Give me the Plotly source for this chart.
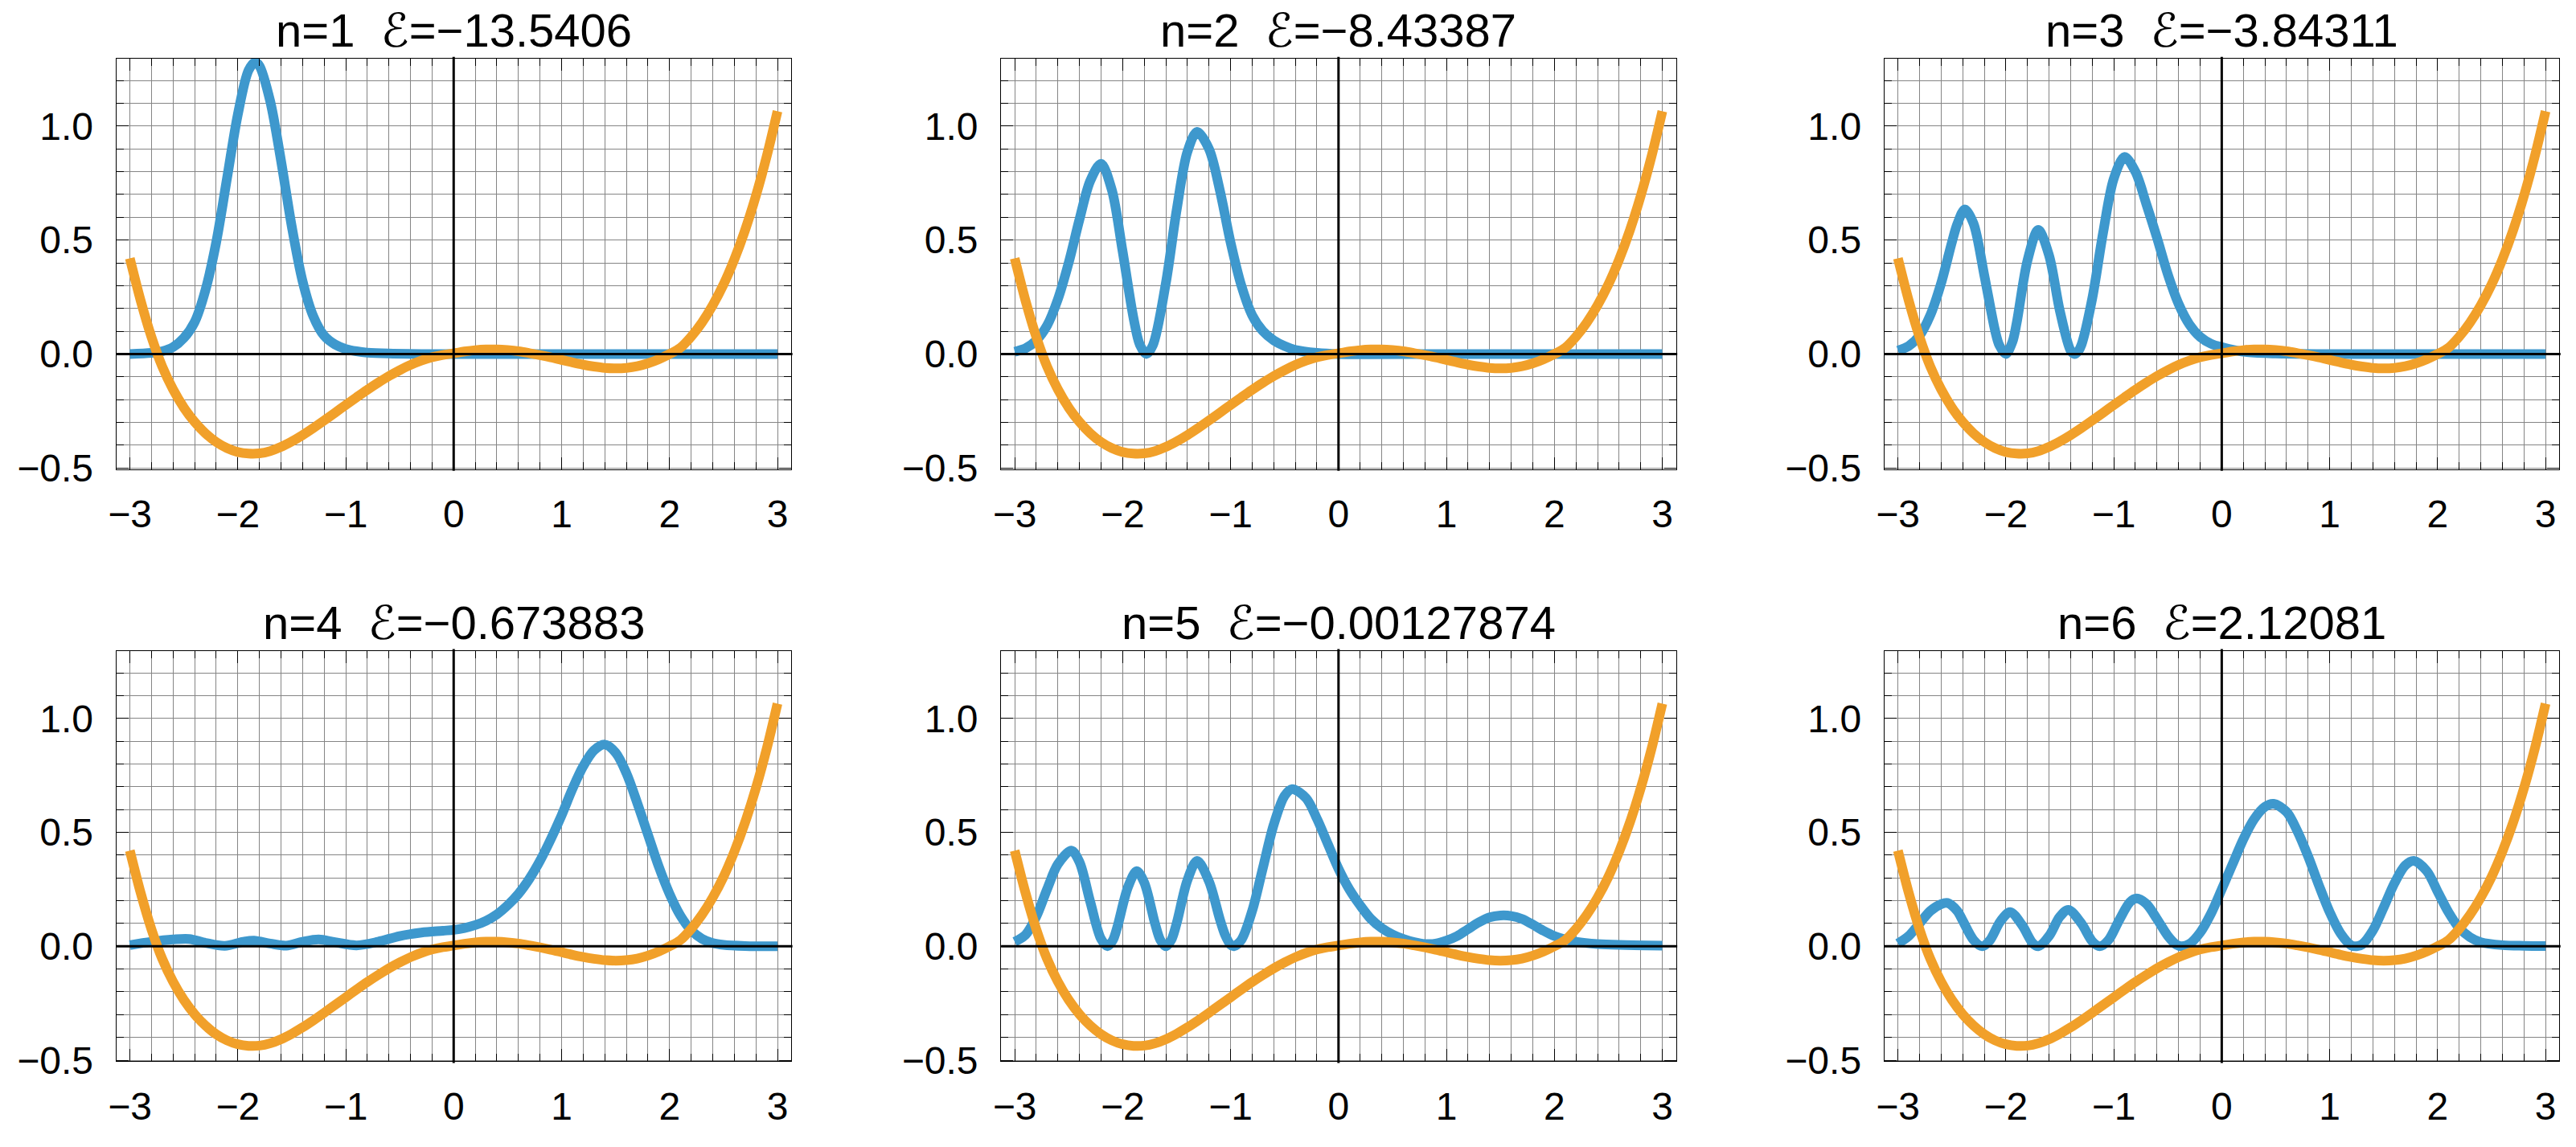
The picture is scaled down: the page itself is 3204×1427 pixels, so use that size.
import plotly.graph_objects as go

W, H = 3204, 1427

# ---------------- data ----------------
state_labels = ["n=1", "n=2", "n=3", "n=4", "n=5", "n=6"]
energy_labels = ["\u221213.5406", "\u22128.43387", "\u22123.84311",
                 "\u22120.673883", "\u22120.00127874", "2.12081"]

# scaled potential (orange), same in every panel
pot_x = [-3.0, -2.9, -2.8, -2.7, -2.6, -2.5, -2.4, -2.3, -2.2, -2.1, -2.0,
         -1.9, -1.8, -1.7, -1.6, -1.5, -1.4, -1.3, -1.2, -1.1, -1.0,
         -0.9, -0.8, -0.7, -0.6, -0.5, -0.4, -0.3, -0.2, -0.1, 0.0,
         0.1, 0.2, 0.3, 0.4, 0.5, 0.6, 0.7, 0.8, 0.9, 1.0,
         1.1, 1.2, 1.3, 1.4, 1.5, 1.6, 1.7, 1.8, 1.9, 2.0,
         2.1, 2.2, 2.3, 2.4, 2.5, 2.6, 2.7, 2.8, 2.9, 3.0]
pot_y = [0.42, 0.235, 0.075, -0.055, -0.155, -0.235, -0.298, -0.348, -0.386, -0.413, -0.43,
         -0.437, -0.436, -0.426, -0.408, -0.384, -0.356, -0.325, -0.292, -0.258, -0.224,
         -0.19, -0.157, -0.126, -0.097, -0.071, -0.048, -0.029, -0.014, -0.004, 0.003,
         0.011, 0.017, 0.02, 0.02, 0.017, 0.012, 0.004, -0.005, -0.015, -0.026,
         -0.037, -0.047, -0.055, -0.061, -0.063, -0.061, -0.054, -0.041, -0.023, 0.0,
         0.027, 0.076, 0.138, 0.214, 0.305, 0.415, 0.544, 0.694, 0.867, 1.065]

# probability densities (blue)
n1_x = [-3.0, -2.8, -2.7, -2.6, -2.5, -2.4, -2.3, -2.2, -2.1, -2.0, -1.9, -1.84, -1.8,
        -1.7, -1.6, -1.5, -1.4, -1.3, -1.2, -1.1, -1.0, -0.9, -0.8, -0.6, -0.3, 0.0,
        1.0, 2.0, 3.0]
n1_y = [0.0, 0.005, 0.012, 0.03, 0.07, 0.14, 0.28, 0.49, 0.77, 1.05, 1.245, 1.28, 1.265,
        1.11, 0.85, 0.56, 0.32, 0.165, 0.08, 0.042, 0.022, 0.012, 0.006, 0.002, 0.0, 0.0,
        0.0, 0.0, 0.0]

n2_x = [-3.0, -2.9, -2.8, -2.7, -2.6, -2.5, -2.4, -2.3, -2.2, -2.1, -2.0, -1.9, -1.84,
        -1.78, -1.72, -1.6, -1.5, -1.4, -1.31, -1.2, -1.1, -1.0, -0.9, -0.8, -0.7,
        -0.6, -0.5, -0.4, -0.2, 0.0, 1.0, 2.0, 3.0]
n2_y = [0.01, 0.025, 0.06, 0.125, 0.24, 0.40, 0.59, 0.76, 0.835, 0.72, 0.45, 0.16, 0.04,
        0.0, 0.038, 0.31, 0.63, 0.887, 0.975, 0.90, 0.72, 0.49, 0.30, 0.17, 0.10,
        0.06, 0.035, 0.018, 0.005, 0.0, 0.0, 0.0, 0.0]

n3_x = [-3.0, -2.9, -2.8, -2.7, -2.6, -2.5, -2.45, -2.38, -2.3, -2.2, -2.1, -2.06, -2.0,
        -1.94, -1.9, -1.8, -1.7, -1.6, -1.5, -1.4, -1.365, -1.33, -1.3, -1.2, -1.1,
        -1.0, -0.9, -0.8, -0.7, -0.6, -0.5, -0.4, -0.3, -0.2, -0.1, 0.0, 0.2, 0.5,
        1.0, 2.0, 3.0]
n3_y = [0.015, 0.035, 0.08, 0.17, 0.31, 0.49, 0.57, 0.635, 0.573, 0.346, 0.103, 0.038, 0.0,
        0.052, 0.136, 0.41, 0.545, 0.433, 0.19, 0.015, 0.0, 0.012, 0.04, 0.243, 0.53,
        0.77, 0.865, 0.80, 0.66, 0.51, 0.35, 0.22, 0.13, 0.075, 0.045, 0.03, 0.01, 0.002,
        0.0, 0.0, 0.0]

n4_x = [-3.0, -2.8, -2.6, -2.45, -2.3, -2.12, -1.95, -1.85, -1.7, -1.55, -1.4, -1.25,
        -1.1, -0.9, -0.7, -0.5, -0.3, -0.1, 0.0, 0.1, 0.2, 0.3, 0.4, 0.5, 0.6, 0.7,
        0.8, 0.9, 1.0, 1.1, 1.2, 1.3, 1.4, 1.5, 1.6, 1.7, 1.8, 1.9, 2.0, 2.1, 2.2,
        2.3, 2.4, 2.5, 2.7, 3.0]
n4_y = [0.005, 0.02, 0.03, 0.032, 0.015, 0.002, 0.02, 0.025, 0.012, 0.003, 0.02, 0.03,
        0.018, 0.004, 0.02, 0.045, 0.06, 0.068, 0.072, 0.08, 0.093, 0.112, 0.14, 0.18,
        0.23, 0.295, 0.375, 0.47, 0.575, 0.69, 0.79, 0.86, 0.885, 0.85, 0.76, 0.63, 0.49,
        0.35, 0.23, 0.135, 0.07, 0.033, 0.014, 0.006, 0.001, 0.0]

n5_x = [-3.0, -2.9, -2.8, -2.7, -2.6, -2.475, -2.4, -2.3, -2.2, -2.14, -2.09, -2.05,
        -1.95, -1.87, -1.8, -1.7, -1.65, -1.6, -1.55, -1.5, -1.4, -1.31, -1.2, -1.1,
        -1.05, -1.0, -0.97, -0.9, -0.8, -0.7, -0.6, -0.5, -0.43, -0.3, -0.2, -0.1, 0.0,
        0.1, 0.2, 0.3, 0.4, 0.5, 0.6, 0.7, 0.8, 0.9, 1.0, 1.1, 1.2, 1.3, 1.4, 1.5, 1.6,
        1.7, 1.8, 1.9, 2.0, 2.1, 2.2, 2.4, 2.6, 3.0]
n5_y = [0.02, 0.05, 0.13, 0.25, 0.36, 0.42, 0.37, 0.195, 0.032, 0.0, 0.027, 0.083,
        0.26, 0.33, 0.28, 0.10, 0.027, 0.0, 0.027, 0.10, 0.29, 0.375, 0.285, 0.12,
        0.049, 0.007, 0.0, 0.028, 0.155, 0.345, 0.534, 0.66, 0.69, 0.65, 0.56, 0.45, 0.34,
        0.25, 0.18, 0.12, 0.08, 0.052, 0.032, 0.018, 0.01, 0.012, 0.025, 0.045, 0.075,
        0.105, 0.127, 0.135, 0.133, 0.12, 0.095, 0.068, 0.045, 0.03, 0.02, 0.01, 0.006,
        0.003]

n6_x = [-3.0, -2.9, -2.8, -2.7, -2.6, -2.54, -2.45, -2.4, -2.3, -2.22, -2.15, -2.05,
        -1.96, -1.85, -1.75, -1.7, -1.6, -1.5, -1.42, -1.3, -1.2, -1.13, -1.05, -0.95,
        -0.85, -0.79, -0.7, -0.6, -0.5, -0.42, -0.37, -0.3, -0.2, -0.1, 0.0, 0.1, 0.2,
        0.3, 0.4, 0.48, 0.6, 0.7, 0.8, 0.9, 1.0, 1.1, 1.2, 1.25, 1.3, 1.4, 1.5, 1.6,
        1.7, 1.78, 1.9, 2.0, 2.1, 2.2, 2.3, 2.4, 2.6, 2.8, 3.0]
n6_y = [0.012, 0.045, 0.10, 0.155, 0.185, 0.19, 0.155, 0.113, 0.028, 0.0, 0.025, 0.11,
        0.15, 0.093, 0.013, 0.0, 0.045, 0.13, 0.16, 0.10, 0.022, 0.0, 0.027, 0.115,
        0.194, 0.21, 0.187, 0.12, 0.046, 0.007, 0.0, 0.01, 0.06, 0.143, 0.25, 0.36, 0.47,
        0.558, 0.612, 0.625, 0.59, 0.506, 0.395, 0.268, 0.15, 0.057, 0.004, 0.0, 0.008,
        0.069, 0.17, 0.277, 0.355, 0.375, 0.33, 0.24, 0.15, 0.08, 0.04, 0.018, 0.005,
        0.002, 0.001]

density_x = [n1_x, n2_x, n3_x, n4_x, n5_x, n6_x]
density_y = [n1_y, n2_y, n3_y, n4_y, n5_y, n6_y]

# ---------------- style / layout ----------------
BLUE = "#3e98cd"
ORANGE = "#f1a02a"
GRID = "#858585"
FONT = "Liberation Sans, Arial, DejaVu Sans, sans-serif"

X_RANGE = [-3.126, 3.126]
Y_RANGE = [-0.505, 1.297]

col_left_px = [135, 1239, 2341]
panel_w_px = 842
row_top_px = [74, 824]
panel_h_px = 520
title_center_px = [38, 788]

fig = go.Figure()
shapes = []
annotations = []

for i in range(6):
    r, c = divmod(i, 3)
    k = "" if i == 0 else str(i + 1)
    xa, ya = "x" + k, "y" + k

    fig.add_trace(go.Scatter(x=density_x[i], y=density_y[i], mode="lines",
                             line=dict(color=BLUE, width=12, shape="spline", smoothing=0.9),
                             xaxis=xa, yaxis=ya, showlegend=False, hoverinfo="skip"))
    fig.add_trace(go.Scatter(x=pot_x, y=pot_y, mode="lines",
                             line=dict(color=ORANGE, width=12, shape="spline", smoothing=0.9),
                             xaxis=xa, yaxis=ya, showlegend=False, hoverinfo="skip"))

    x0 = col_left_px[c] / W
    x1 = (col_left_px[c] + panel_w_px) / W
    y1 = 1 - row_top_px[r] / H
    y0 = 1 - (row_top_px[r] + panel_h_px) / H

    common = dict(showline=True, linecolor="black", linewidth=1, mirror="ticks",
                  ticks="inside", tickcolor="black", tickwidth=1, ticklen=15,
                  showgrid=True, gridcolor=GRID, gridwidth=1, zeroline=False,
                  tickfont=dict(family=FONT, size=48, color="black"),
                  layer="above traces", fixedrange=True)

    fig.layout["xaxis" + k] = dict(
        common, domain=[x0, x1], anchor=ya, range=X_RANGE,
        tick0=0, dtick=1, ticklabelstandoff=14,
        minor=dict(dtick=0.2, tick0=0, ticks="inside", ticklen=9, tickcolor="black",
                   tickwidth=1, showgrid=True, gridcolor=GRID, gridwidth=1))
    fig.layout["yaxis" + k] = dict(
        common, domain=[y0, y1], anchor=xa, range=Y_RANGE,
        tick0=0, dtick=0.5, tickformat=".1f", ticklabelstandoff=18,
        minor=dict(dtick=0.1, tick0=0, ticks="inside", ticklen=9, tickcolor="black",
                   tickwidth=1, showgrid=True, gridcolor=GRID, gridwidth=1))

    # coordinate axes through the origin
    shapes.append(dict(type="line", xref=xa, yref=ya + " domain", x0=0, x1=0,
                       y0=-0.004, y1=1.004, line=dict(color="black", width=3), layer="above"))
    shapes.append(dict(type="line", xref=xa + " domain", yref=ya, x0=0, x1=1.002,
                       y0=0, y1=0, line=dict(color="black", width=3), layer="above"))

    annotations.append(dict(
        text=state_labels[i] + "\u00a0\u00a0\u2130=" + energy_labels[i],
        x=(x0 + x1) / 2, y=1 - title_center_px[r] / H, xref="paper", yref="paper",
        xanchor="center", yanchor="middle", showarrow=False,
        font=dict(family=FONT, size=58, color="black")))

fig.update_layout(width=W, height=H, autosize=False,
                  margin=dict(l=0, r=0, t=0, b=0, pad=0),
                  paper_bgcolor="white", plot_bgcolor="white",
                  shapes=shapes, annotations=annotations, showlegend=False)

fig.write_html("out.html", config={"displayModeBar": False})
